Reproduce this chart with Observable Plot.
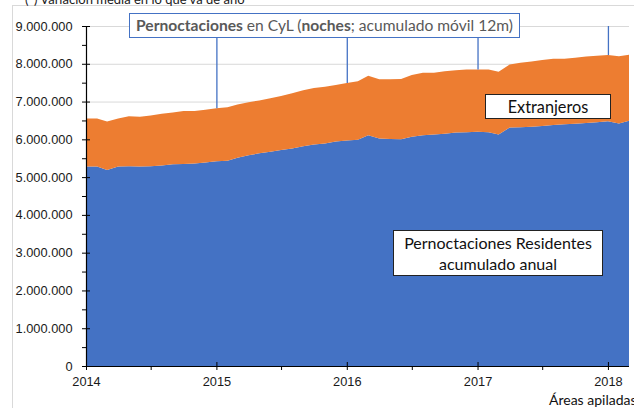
<!DOCTYPE html>
<html>
<head>
<meta charset="utf-8">
<script src="https://cdn.jsdelivr.net/npm/d3@7"></script>
<script src="https://cdn.jsdelivr.net/npm/@observablehq/plot@0.6"></script>
<style>
  html, body { margin: 0; padding: 0; background: #fff; }
  #wrap { position: relative; width: 634px; height: 408px; overflow: hidden; background: #fff; }
  #wrap svg { position: absolute; left: 0; top: 0; }
  .ov { position: absolute; box-sizing: border-box; font-family: Lato, "Open Sans", sans-serif; white-space: nowrap; }
  #frame { left: 12px; top: 5px; width: 700px; height: 500px; border-left: 1px solid #d9d9d9; border-top: 1px solid #d9d9d9; }
  #note { left: 25px; top: -9px; font-size: 13px; color: #222; }
  #title { left: 129px; top: 13px; width: 391px; height: 25px; border: 1px solid #4472C4; background: #fff; color: #595959; font-size: 15.6px; line-height: 23px; text-align: center; }
  #ext { left: 485px; top: 94px; width: 126px; height: 25px; border: 1px solid #222; background: #fff; color: #111; font-size: 16.3px; line-height: 23px; text-align: center; }
  #res { left: 393px; top: 230px; width: 210px; height: 46px; border: 1px solid #222; background: #fff; color: #111; font-size: 16px; line-height: 21px; padding-top: 1px; text-align: center; }
  #foot { left: 549px; top: 391px; font-size: 14px; color: #111; }
</style>
</head>
<body>
<div id="wrap"></div>
<script>
// ---- Data (miles de noches, acumulado móvil 12 meses), enero 2014 – marzo 2018 ----
const startMonth = "2014-01-01";
const endMonth = "2018-03-01";
const residentes = [5280, 5280, 5190, 5280, 5290, 5280, 5290, 5310, 5340, 5350, 5360, 5390,
  5420, 5430, 5510, 5580, 5630, 5670, 5720, 5760, 5820, 5860, 5890, 5940,
  5970, 5990, 6110, 6020, 6010, 6000, 6070, 6110, 6130, 6150, 6180, 6190,
  6200, 6190, 6130, 6310, 6320, 6330, 6350, 6380, 6400, 6410, 6430, 6450,
  6480, 6420, 6490];
const extranjeros = [1270, 1270, 1280, 1270, 1320, 1320, 1340, 1370, 1370, 1400, 1390, 1390,
  1400, 1420, 1410, 1400, 1400, 1420, 1430, 1460, 1480, 1500, 1500, 1500,
  1520, 1550, 1570, 1570, 1580, 1600, 1630, 1650, 1630, 1650, 1650, 1660,
  1650, 1660, 1660, 1670, 1710, 1730, 1750, 1750, 1730, 1750, 1760, 1760,
  1750, 1780, 1750];
const series = ["Residentes", "Extranjeros"];
const seriesColors = ["#4472C4", "#ED7D31"];
const yearTicks = [2014, 2015, 2016, 2017, 2018];
const halfYearTicks = ["2014-07-01", "2015-07-01", "2016-07-01", "2017-07-01"];
const markerYears = [2015, 2016, 2017, 2018];
const yMajorTicks = [0, 1e6, 2e6, 3e6, 4e6, 5e6, 6e6, 7e6, 8e6, 9e6];
const yMinorTicks = [5e5, 1.5e6, 2.5e6, 3.5e6, 4.5e6, 5.5e6, 6.5e6, 7.5e6, 8.5e6];

// ---- Build tables ----
const months = d3.utcMonth.range(new Date(startMonth), d3.utcMonth.offset(new Date(endMonth), 1));
const rows = months.map((date, i) => ({
  date,
  res: residentes[i] * 1000,
  ext: extranjeros[i] * 1000,
  total: (residentes[i] + extranjeros[i]) * 1000
}));
const long = rows.flatMap(r => [
  {date: r.date, serie: "Residentes", value: r.res},
  {date: r.date, serie: "Extranjeros", value: r.ext}
]);
const yearDates = yearTicks.map(y => new Date(Date.UTC(y, 0, 1)));
const halfDates = halfYearTicks.map(s => new Date(s));
const markerRows = rows.filter(r => r.date.getUTCMonth() === 0 && markerYears.includes(r.date.getUTCFullYear()));

const es = d3.formatLocale({decimal: ",", thousands: ".", grouping: [3], currency: ["", " €"]});
const fmt = es.format(",d");
const blank = () => "";

const chart = Plot.plot({
  width: 634,
  height: 408,
  marginLeft: 86,
  marginRight: 5,
  marginTop: 26,
  marginBottom: 42,
  style: {fontFamily: "'Liberation Sans', Arial, sans-serif", fontSize: "12.8px", color: "#1a1a1a", background: "transparent"},
  x: {type: "utc", domain: [new Date(startMonth), new Date(endMonth)], axis: null},
  y: {domain: [0, 9e6], axis: null},
  color: {domain: series, range: seriesColors},
  marks: [
    Plot.gridY(yMajorTicks.slice(1), {stroke: "#d9d9d9", strokeOpacity: 1, strokeWidth: 1}),
    Plot.areaY(long, {x: "date", y: "value", fill: "serie", order: series, fillOpacity: 1}),
    Plot.ruleX(markerRows, {x: "date", y1: "total", y2: 9e6, stroke: "#4472C4", strokeWidth: 1.3}),
    Plot.ruleY([0], {stroke: "#000", strokeWidth: 1.2}),
    Plot.ruleX([new Date(startMonth)], {y1: 0, y2: 9e6, stroke: "#000", strokeWidth: 1.2}),
    Plot.axisY({ticks: yMajorTicks, tickSize: 8, dx: 4, tickFormat: blank, label: null, stroke: "#000"}),
    Plot.axisY({ticks: yMinorTicks, tickSize: 4, tickFormat: blank, label: null, stroke: "#000"}),
    Plot.axisY({ticks: yMajorTicks, tickFormat: fmt, tickSize: 0, tickPadding: 14, label: null, fill: "#1a1a1a"}),
    Plot.axisX({ticks: yearDates, tickSize: 8, dy: -4, tickFormat: blank, label: null, stroke: "#000"}),
    Plot.axisX({ticks: halfDates, tickSize: 4, tickFormat: blank, label: null, stroke: "#000"}),
    Plot.axisX({ticks: yearDates, tickFormat: d3.utcFormat("%Y"), tickSize: 0, tickPadding: 10, label: null, fill: "#1a1a1a"})
  ]
});

const wrap = document.getElementById("wrap");
wrap.innerHTML = `<div class="ov" id="frame"></div>`;
wrap.appendChild(chart);
wrap.insertAdjacentHTML("beforeend", `
  <div class="ov" id="note">(*) Variación media en lo que va de año</div>
  <div class="ov" id="title"><b>Pernoctaciones</b> en CyL (<b>noches</b>; acumulado móvil 12m)</div>
  <div class="ov" id="ext">Extranjeros</div>
  <div class="ov" id="res">Pernoctaciones Residentes<br>acumulado anual</div>
  <div class="ov" id="foot">Áreas apiladas</div>
`);
</script>
</body>
</html>
